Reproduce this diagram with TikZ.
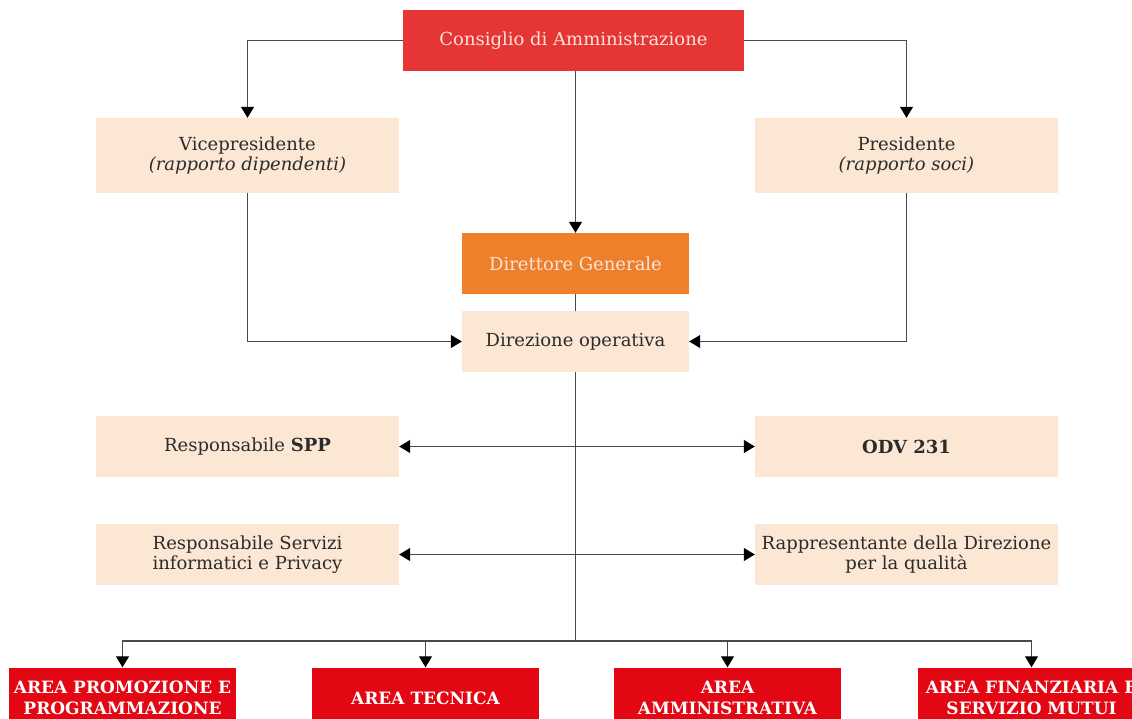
\documentclass[tikz,border=0pt]{standalone}
\usepackage{fontspec}
\setmainfont{DejaVu Serif}
\usetikzlibrary{arrows.meta}
\definecolor{cdacol}{HTML}{E53535}
\definecolor{dgcol}{HTML}{EE7F2B}
\definecolor{peach}{HTML}{FCE6D4}
\definecolor{areacol}{HTML}{E30613}
\definecolor{lighttxt}{HTML}{FCE3DA}
\definecolor{darktxt}{HTML}{2B2B2B}
\definecolor{linec}{HTML}{4A4A4A}
\begin{document}
\begin{tikzpicture}[x=1pt,y=-1pt,
  base/.style={rectangle, inner sep=0pt, align=center, font=\fontsize{18}{20.5}\selectfont},
  wide/.style={base, minimum width=303pt},
  narrow/.style={base, minimum width=227pt, minimum height=61pt},
  peachbox/.style={fill=peach, text=darktxt},
  redbox/.style={base, fill=cdacol, text=lighttxt, minimum width=341pt, minimum height=61pt},
  orangebox/.style={narrow, fill=dgcol, text=lighttxt},
  areabox/.style={narrow, fill=areacol, text=white, font=\fontsize{17}{21}\selectfont\bfseries},
  conn/.style={draw=linec, line width=1.1pt},
  arr/.style={conn, -{Triangle[width=13pt,length=11pt,color=black]}},
  arrtwo/.style={conn, {Triangle[width=13pt,length=11pt,color=black]}-{Triangle[width=13pt,length=11pt,color=black]}}
]
\clip (0,0) rectangle (1132,718);
\fill[white] (0,0) rectangle (1132,718);

\node[redbox] (cda) at (573.5,40.5) {Consiglio di Amministrazione};
\node[wide, peachbox, minimum height=75pt] (vp) at (247.5,155.5) {Vicepresidente\\\itshape(rapporto dipendenti)};
\node[wide, peachbox, minimum height=75pt] (pres) at (906.5,155.5) {Presidente\\\itshape(rapporto soci)};
\node[orangebox] (dg) at (575.5,263.5) {Direttore Generale};
\node[narrow, peachbox] (do) at (575.5,341.5) {Direzione operativa};
\node[wide, peachbox, minimum height=61pt] (spp) at (247.5,446.5) {Responsabile \textbf{SPP}};
\node[wide, peachbox, minimum height=61pt] (odv) at (906.5,446.5) {\textbf{ODV 231}};
\node[wide, peachbox, minimum height=61pt] (rsi) at (247.5,554.5) {Responsabile Servizi\\informatici e Privacy};
\node[wide, peachbox, minimum height=61pt] (rdq) at (906.5,554.5) {Rappresentante della Direzione\\per la qualità};
\node[areabox] (a1) at (122.5,698) {AREA PROMOZIONE E\\PROGRAMMAZIONE};
\node[areabox] (a2) at (425.5,698) {AREA TECNICA};
\node[areabox] (a3) at (727.5,698) {AREA\\AMMINISTRATIVA};
\node[areabox] (a4) at (1031.5,698) {AREA FINANZIARIA E\\SERVIZIO MUTUI};

\coordinate (hub) at (575.5,641);

\draw[arr] (cda.west) -| (vp.north);
\draw[arr] (cda.east) -| (pres.north);
\draw[arr] (cda.south -| dg.north) -- (dg.north);
\draw[conn] (dg.south) -- (do.north);
\draw[arr] (vp.south) |- (do.west);
\draw[arr] (pres.south) |- (do.east);
\draw[conn] (do.south) -- (hub);
\draw[arr] (hub) -| (a1.north);
\draw[arr] (hub) -| (a2.north);
\draw[arr] (hub) -| (a3.north);
\draw[arr] (hub) -| (a4.north);
\draw[arrtwo] (spp.east) -- (odv.west);
\draw[arrtwo] (rsi.east) -- (rdq.west);
\end{tikzpicture}
\end{document}
